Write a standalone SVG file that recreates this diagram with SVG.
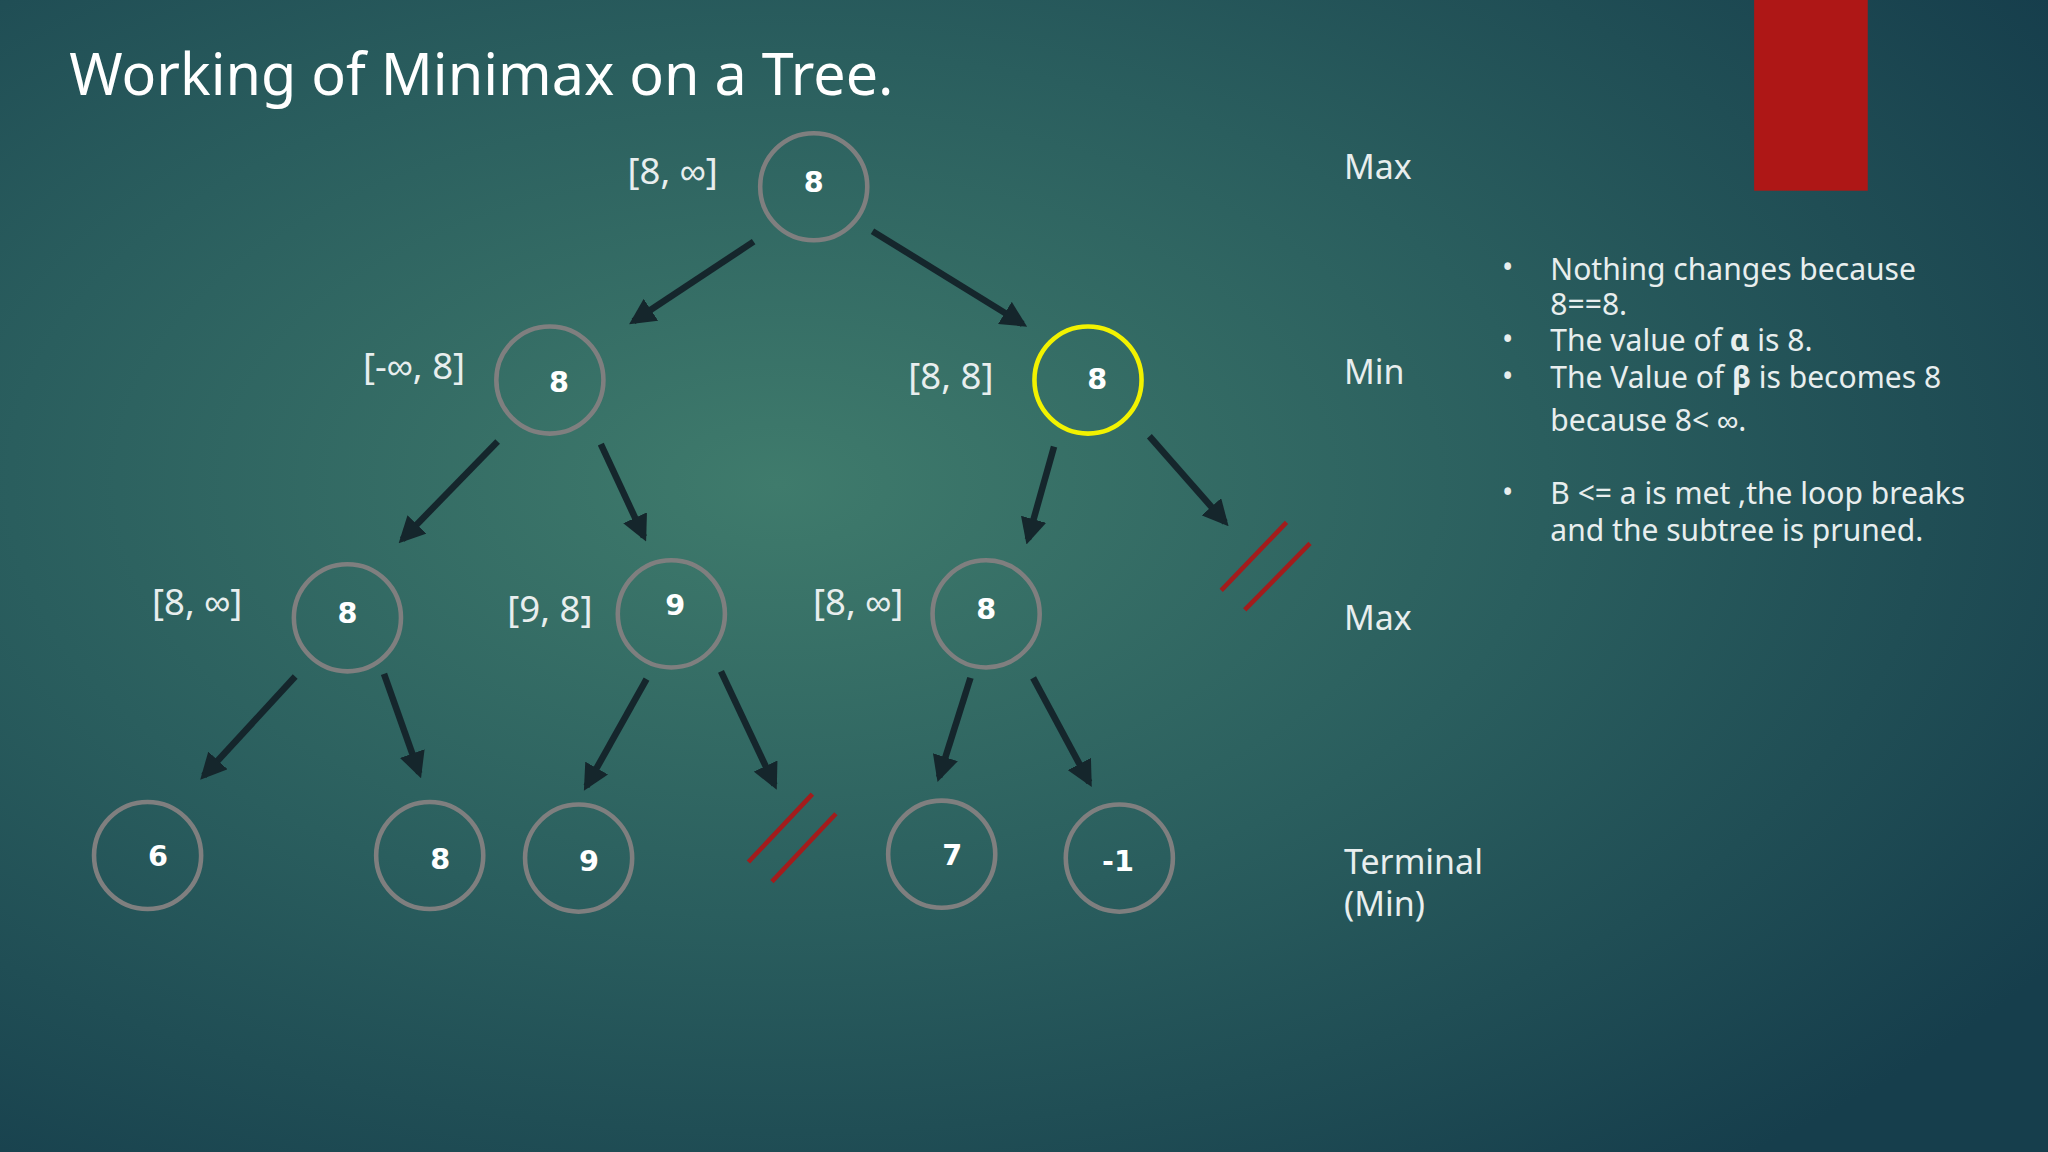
<svg xmlns="http://www.w3.org/2000/svg" width="2048" height="1152" viewBox="0 0 2048 1152">
<defs>
<radialGradient id="bg" cx="0.38" cy="0.42" r="0.75">
<stop offset="0" stop-color="#3f7b6c"/>
<stop offset="0.5" stop-color="#2a5e5e"/>
<stop offset="1" stop-color="#163e4c"/>
</radialGradient>
<marker id="ah" viewBox="0 0 10 10" refX="8" refY="5" markerWidth="4" markerHeight="4" orient="auto" markerUnits="strokeWidth">
<path d="M0,0 L10,5 L0,10 z" fill="#15262c"/>
</marker>
<style>
.n{fill:none;stroke:#7f7f7f;stroke-width:3.5}
.nt{font-family:"DejaVu Sans",sans-serif;font-weight:bold;font-size:22px;fill:#fff;text-anchor:middle}
.lb{font-family:"Noto Sans","Liberation Sans",sans-serif;font-size:28px;fill:#e8eeee;text-anchor:middle}
.rl{font-family:"Noto Sans","Liberation Sans",sans-serif;font-size:26px;fill:#e8eeee}
.bt{font-family:"Noto Sans","Liberation Sans",sans-serif;font-size:23px;fill:#e8eeee}
.a{stroke:#15262c;stroke-width:5;marker-end:url(#ah)}
.p{stroke:#a31c1c;stroke-width:3.5}
</style>
</defs>
<rect width="2048" height="1152" fill="url(#bg)"/>
<g transform="scale(1.30612)">
<rect x="1343" y="0" width="87" height="146" fill="#ae1716"/>
<text x="53" y="73" font-family="Noto Sans, Liberation Sans, sans-serif" font-size="44" fill="#fff">Working of Minimax on a Tree.</text>
<g id="connectors">
<line class="a" x1="577" y1="185" x2="485" y2="246"/>
<line class="a" x1="668" y1="177" x2="783" y2="248"/>
<line class="a" x1="381" y1="338" x2="308" y2="413"/>
<line class="a" x1="460" y1="340" x2="493" y2="411"/>
<line class="a" x1="807" y1="342" x2="787" y2="413"/>
<line class="a" x1="880" y1="334" x2="938" y2="400"/>
<line class="a" x1="226" y1="518" x2="156" y2="594"/>
<line class="a" x1="294" y1="516" x2="321" y2="592"/>
<line class="a" x1="495" y1="520" x2="449" y2="602"/>
<line class="a" x1="552" y1="514" x2="593" y2="601"/>
<line class="a" x1="743" y1="519" x2="719" y2="595"/>
<line class="a" x1="791" y1="519" x2="834" y2="599"/>
<line class="p" x1="935" y1="452" x2="985" y2="400"/>
<line class="p" x1="953" y1="467" x2="1003" y2="416"/>
<line class="p" x1="573" y1="660" x2="622" y2="608"/>
<line class="p" x1="591" y1="675" x2="640" y2="623"/>
</g>
<g id="root"><circle class="n" cx="623" cy="143" r="41"/><text class="nt" x="623" y="147">8</text></g>
<g id="minL"><circle class="n" cx="421" cy="291" r="41"/><text class="nt" x="428" y="300">8</text></g>
<g id="minR"><circle cx="833" cy="291" r="41" fill="none" stroke="#f2f200" stroke-width="3.5"/><text class="nt" x="840" y="298">8</text></g>
<g id="max1"><circle class="n" cx="266" cy="473" r="41"/><text class="nt" x="266" y="477">8</text></g>
<g id="max2"><circle class="n" cx="514" cy="470" r="41"/><text class="nt" x="517" y="471">9</text></g>
<g id="max3"><circle class="n" cx="755" cy="470" r="41"/><text class="nt" x="755" y="474">8</text></g>
<g id="t1"><circle class="n" cx="113" cy="655" r="41"/><text class="nt" x="121" y="663">6</text></g>
<g id="t2"><circle class="n" cx="329" cy="655" r="41"/><text class="nt" x="337" y="665">8</text></g>
<g id="t3"><circle class="n" cx="443" cy="657" r="41"/><text class="nt" x="451" y="667">9</text></g>
<g id="t4"><circle class="n" cx="721" cy="654" r="41"/><text class="nt" x="729" y="662">7</text></g>
<g id="t5"><circle class="n" cx="857" cy="657" r="41"/><text class="nt" x="856" y="667">-1</text></g>
<text class="lb" x="515" y="141">[8, ∞]</text>
<text class="lb" x="317" y="290">[-∞, 8]</text>
<text class="lb" x="728" y="298">[8, 8]</text>
<text class="lb" x="151" y="471">[8, ∞]</text>
<text class="lb" x="421" y="476">[9, 8]</text>
<text class="lb" x="657" y="471">[8, ∞]</text>
<text class="rl" x="1029" y="137">Max</text>
<text class="rl" x="1029" y="294">Min</text>
<text class="rl" x="1029" y="482">Max</text>
<text class="rl" x="1029" y="669">Terminal</text>
<text class="rl" x="1029" y="701">(Min)</text>
<g class="bt">
<text x="1150" y="213">•</text><text x="1187" y="214">Nothing changes because</text>
<text x="1187" y="241">8==8.</text>
<text x="1150" y="268">•</text><text x="1187" y="269">The value of <tspan font-weight="bold">α</tspan> is 8.</text>
<text x="1150" y="296">•</text><text x="1187" y="297">The Value of  <tspan font-weight="bold">β</tspan> is becomes 8</text>
<text x="1187" y="330">because 8&lt; ∞.</text>
<text x="1150" y="385">•</text><text x="1187" y="386">B &lt;= a is met ,the loop breaks</text>
<text x="1187" y="414">and the subtree is pruned.</text>
</g>
</g>
</svg>
